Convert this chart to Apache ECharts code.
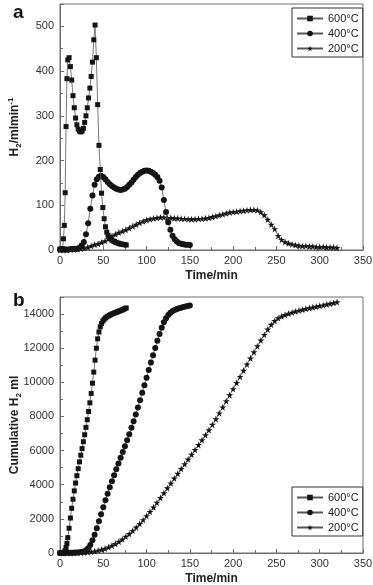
<!DOCTYPE html>
<html><head><meta charset="utf-8">
<script src="https://cdn.jsdelivr.net/npm/echarts@6/dist/echarts.min.js"></script>
<style>html,body{margin:0;padding:0;background:#fff}#c{width:373px;height:585px}</style>
</head><body><div id="c"></div>
<script>
// ---- data ----
const seriesNames = ['600°C', '400°C', '200°C'];

const t600 = [0,1.5,3,4,5,6,7,8,9,10.5,12,13.5,15,16.5,18,19.5,21,22.5,24,25.5,27,28.5,30,31.5,33,34.5,36,37.5,39,40.5,42,43.5,45,46.5,48,49.5,51,52.5,54,55.5,57,58.5,60,61.5,63,64.5,66,67.5,69,70.5,72,73.5,75,76.5];
const rate600 = [2,2,3,25,55,128,276,383,425,430,410,380,345,318,295,280,270,266,264,266,272,285,300,318,340,362,388,420,470,503,430,325,234,180,127,95,70,52,40,33,28,25,22,20,19,17,16,15,14,13,13,12,12,11];
const cum600 = [0,3,7,20,55,140,320,560,900,1450,2050,2620,3150,3640,4100,4530,4940,5340,5730,6120,6520,6930,7360,7810,8290,8800,9350,9950,10600,11300,12000,12550,12950,13250,13450,13590,13690,13770,13830,13880,13925,13965,14000,14035,14065,14095,14125,14155,14185,14215,14245,14280,14320,14360];

const t400 = [0,2.5,5,7.5,10,12.5,15,17.5,20,22.5,25,27.5,30,32.5,35,37.5,40,42.5,45,47.5,50,52.5,55,57.5,60,62.5,65,67.5,70,72.5,75,77.5,80,82.5,85,87.5,90,92.5,95,97.5,100,102.5,105,107.5,110,112.5,115,117.5,120,122.5,125,127.5,130,132.5,135,137.5,140,142.5,145,147.5,150];
const rate400 = [1,1,1,1,1,2,2,2,3,5,10,18,35,60,92,122,146,158,164,166,163,158,152,147,143,140,137,135,134,135,137,141,146,151,157,163,168,172,175,177,178,177,175,172,168,163,155,140,112,85,62,45,32,24,19,15,14,13,12,12,11];
const cum400 = [0,3,5,8,10,14,19,24,30,40,59,94,160,279,474,743,1075,1455,1858,2270,2681,3085,3475,3849,4209,4559,4905,5245,5580,5915,6255,6603,6962,7333,7718,8118,8532,8957,9391,9831,10275,10719,11159,11593,12018,12432,12830,13199,13514,13760,13944,14078,14174,14244,14298,14340,14376,14410,14441,14471,14500];

const t200 = [0,4,8,12,16,20,24,28,32,36,40,44,48,52,56,60,64,68,72,76,80,84,88,92,96,100,104,108,112,116,120,124,128,132,136,140,144,148,152,156,160,164,168,172,176,180,184,188,192,196,200,204,208,212,216,220,224,228,232,236,240,244,248,252,256,260,264,268,272,276,280,284,288,292,296,300,304,308,312,316,320];
const rate200 = [0,0,0,1,1,2,3,4,6,9,12,14,17,20,25,31,35,39,42,45,49,53,57,61,64,67,69,71,72,73,73,72,72,71,71,70,70,69,69,69,70,70,71,72,74,76,78,80,82,84,85,86,87,88,89,90,90,89,85,78,68,57,47,32,23,18,15,13,11,10,9,9,8,8,7,7,7,6,6,6,5];
const cum200 = [0,0,0,2,5,10,18,30,46,70,105,148,200,262,338,430,540,665,805,960,1125,1305,1500,1710,1935,2170,2420,2680,2950,3230,3515,3800,4085,4370,4650,4930,5210,5490,5770,6050,6335,6620,6910,7205,7520,7850,8190,8540,8900,9250,9610,9970,10330,10690,11050,11410,11770,12120,12460,12790,13100,13380,13600,13760,13870,13960,14030,14095,14155,14210,14260,14305,14350,14395,14440,14480,14520,14565,14610,14650,14700];

const xRange = [0, 350], xStep = 50;
const yRateRange = [0, 550], yRateStep = 100;
const yCumRange = [0, 15000], yCumStep = 2000;

// ---- chart ----
const FONT = '"Liberation Sans", Arial, Helvetica, sans-serif';
const AX = '#6e6e6e';
const STAR = 'path://M50,0 L61,35 L98,35 L68,57 L79,91 L50,70 L21,91 L32,57 L2,35 L39,35 Z';
const symbols = ['rect', 'circle', STAR];
const symSizes = [5, 6, 7];

function xAxisCfg(gi) {
  return {
    type: 'value', gridIndex: gi, min: xRange[0], max: xRange[1], interval: xStep,
    axisLine: { show: true, lineStyle: { color: AX, width: 1 } },
    axisTick: { show: true, inside: true, length: 4, lineStyle: { color: AX } },
    minorTick: { show: true, splitNumber: 2, length: 3, lineStyle: { color: AX } },
    splitLine: { show: false },
    axisLabel: { color: '#333', fontSize: 11, margin: 5, fontFamily: FONT, formatter: v => String(v) },
    name: 'Time/min', nameLocation: 'middle', nameGap: 20, nameMoveOverlap: false,
    nameTextStyle: { color: '#222', fontSize: 12, fontWeight: 'bold', fontFamily: FONT }
  };
}
function yAxisCfg(gi, range, step, name, rich) {
  return {
    type: 'value', gridIndex: gi, min: range[0], max: range[1], interval: step,
    axisLine: { show: true, lineStyle: { color: AX, width: 1 } },
    axisTick: { show: true, inside: true, length: 4, lineStyle: { color: AX } },
    minorTick: { show: true, splitNumber: 2, length: 3, lineStyle: { color: AX } },
    splitLine: { show: false },
    axisLabel: { color: '#333', fontSize: 11, margin: 6, fontFamily: FONT, showMaxLabel: false, formatter: v => String(v) },
    name: name, nameLocation: 'middle', nameRotate: 90, nameGap: 37, nameMoveOverlap: false,
    nameTextStyle: { rich: rich }
  };
}
const richName = {
  b: { fontSize: 12, fontWeight: 'bold', color: '#222', fontFamily: FONT, lineHeight: 16, verticalAlign: 'middle' },
  sub: { fontSize: 8, fontWeight: 'bold', color: '#222', fontFamily: FONT, lineHeight: 8, verticalAlign: 'bottom' },
  sup: { fontSize: 8, fontWeight: 'bold', color: '#222', fontFamily: FONT, lineHeight: 8, verticalAlign: 'top' }
};

const series = [];
const sets = [[t600, rate600, cum600], [t400, rate400, cum400], [t200, rate200, cum200]];
sets.forEach((s, k) => {
  [1, 2].forEach(j => {
    series.push({
      name: seriesNames[k], type: 'line', xAxisIndex: j - 1, yAxisIndex: j - 1,
      data: s[0].map((t, i) => [t, s[j][i]]),
      symbol: symbols[k], symbolSize: symSizes[k], showSymbol: true, showAllSymbol: true,
      itemStyle: { color: '#141414' },
      lineStyle: { color: '#555', width: 0.8 },
      z: 3 - k
    });
  });
});

function legendCfg(top) {
  return {
    data: seriesNames, orient: 'vertical', left: 292, top: top,
    itemWidth: 26, itemHeight: 7, itemGap: 4,
    padding: [5, 4, 3, 4],
    borderColor: '#333', borderWidth: 1, backgroundColor: '#fff',
    textStyle: { color: '#222', fontSize: 11, fontFamily: FONT }
  };
}

const gridCommon = { show: true, borderColor: AX, borderWidth: 1, backgroundColor: 'transparent', containLabel: false, outerBoundsMode: 'none' };
const chart = echarts.init(document.getElementById('c'), null, { renderer: 'canvas' });
chart.setOption({
  animation: false,
  backgroundColor: '#fff',
  grid: [
    Object.assign({ left: 60, top: 4, width: 303, height: 246 }, gridCommon),
    Object.assign({ left: 60, top: 297, width: 303, height: 256 }, gridCommon)
  ],
  xAxis: [xAxisCfg(0), xAxisCfg(1)],
  yAxis: [
    yAxisCfg(0, yRateRange, yRateStep, '{b|H}{sub|2}{b|/mlmin}{sup|-1}', richName),
    yAxisCfg(1, yCumRange, yCumStep, '{b|Cumulative H}{sub|2}{b| ml}', richName)
  ],
  legend: [legendCfg(8), legendCfg(487)],
  graphic: [
    { type: 'text', left: 13, top: 3, style: { text: 'a', fontSize: 19, fontWeight: 'bold', fill: '#111', fontFamily: FONT } },
    { type: 'text', left: 13, top: 291, style: { text: 'b', fontSize: 19, fontWeight: 'bold', fill: '#111', fontFamily: FONT } }
  ],
  series: series
});
</script></body></html>
